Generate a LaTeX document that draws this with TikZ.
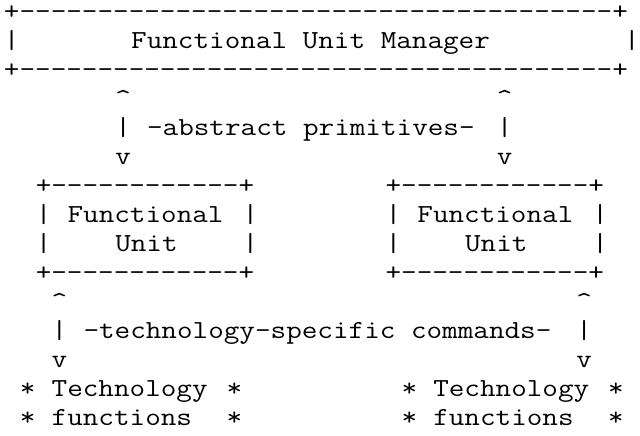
\documentclass[tikz,border=0pt]{standalone}
\usepackage{fontspec}
\usepackage{graphicx}
\newcommand{\ascfont}{\ttfamily\fontsize{26pt}{29pt}\selectfont}
\newcommand{\colx}[1]{4+15.9*#1}
\newcommand{\rowy}[1]{416-29*#1}
\newcommand{\asc}[1]{\scalebox{1.16484}[1]{#1}}
\newcommand{\caret}{\char"5E}
\begin{document}
\begin{tikzpicture}[x=1pt,y=1pt,
  txt/.style={anchor=base west, inner sep=0pt, outer sep=0pt, font=\ascfont, text=black}]
\useasboundingbox[fill=white] (0,0) rectangle (640,436);
% Functional Unit Manager box
\node[txt] (mgrTop) at ({\colx{0}},{\rowy{0}}) {\asc{+--------------------------------------+}};
\node[txt] (mgrL) at ({\colx{0}},{\rowy{1}}) {\asc{|}};
\node[txt] (mgr) at ({\colx{8}},{\rowy{1}}) {\asc{Functional Unit Manager}};
\node[txt] (mgrR) at ({\colx{39}},{\rowy{1}}) {\asc{|}};
\node[txt] (mgrBot) at ({\colx{0}},{\rowy{2}}) {\asc{+--------------------------------------+}};
% abstract primitives
\node[txt] (upA) at ({\colx{7}},{\rowy{3}}) {\asc{\caret}};
\node[txt] (upB) at ({\colx{31}},{\rowy{3}}) {\asc{\caret}};
\node[txt] (barA) at ({\colx{7}},{\rowy{4}}) {\asc{|}};
\node[txt] (absLbl) at ({\colx{9}},{\rowy{4}}) {\asc{-abstract primitives-}};
\node[txt] (barB) at ({\colx{31}},{\rowy{4}}) {\asc{|}};
\node[txt] (dnA) at ({\colx{7}},{\rowy{5}}) {\asc{v}};
\node[txt] (dnB) at ({\colx{31}},{\rowy{5}}) {\asc{v}};
% Functional Unit boxes
\node[txt] (fuATop) at ({\colx{2}},{\rowy{6}}) {\asc{+------------+}};
\node[txt] (fuBTop) at ({\colx{24}},{\rowy{6}}) {\asc{+------------+}};
\node[txt] (fuAL1) at ({\colx{2}},{\rowy{7}}) {\asc{|}};
\node[txt] (fuAT1) at ({\colx{4}},{\rowy{7}}) {\asc{Functional}};
\node[txt] (fuAR1) at ({\colx{15}},{\rowy{7}}) {\asc{|}};
\node[txt] (fuBL1) at ({\colx{24}},{\rowy{7}}) {\asc{|}};
\node[txt] (fuBT1) at ({\colx{26}},{\rowy{7}}) {\asc{Functional}};
\node[txt] (fuBR1) at ({\colx{37}},{\rowy{7}}) {\asc{|}};
\node[txt] (fuAL2) at ({\colx{2}},{\rowy{8}}) {\asc{|}};
\node[txt] (fuAT2) at ({\colx{7}},{\rowy{8}}) {\asc{Unit}};
\node[txt] (fuAR2) at ({\colx{15}},{\rowy{8}}) {\asc{|}};
\node[txt] (fuBL2) at ({\colx{24}},{\rowy{8}}) {\asc{|}};
\node[txt] (fuBT2) at ({\colx{29}},{\rowy{8}}) {\asc{Unit}};
\node[txt] (fuBR2) at ({\colx{37}},{\rowy{8}}) {\asc{|}};
\node[txt] (fuABot) at ({\colx{2}},{\rowy{9}}) {\asc{+------------+}};
\node[txt] (fuBBot) at ({\colx{24}},{\rowy{9}}) {\asc{+------------+}};
% technology-specific commands
\node[txt] (upC) at ({\colx{3}},{\rowy{10}}) {\asc{\caret}};
\node[txt] (upD) at ({\colx{36}},{\rowy{10}}) {\asc{\caret}};
\node[txt] (barC) at ({\colx{3}},{\rowy{11}}) {\asc{|}};
\node[txt] (techLbl) at ({\colx{5}},{\rowy{11}}) {\asc{-technology-specific commands-}};
\node[txt] (barD) at ({\colx{36}},{\rowy{11}}) {\asc{|}};
\node[txt] (dnC) at ({\colx{3}},{\rowy{12}}) {\asc{v}};
\node[txt] (dnD) at ({\colx{36}},{\rowy{12}}) {\asc{v}};
% Technology functions
\node[txt] (tfAL1) at ({\colx{1}},{\rowy{13}}) {\asc{*}};
\node[txt] (tfAT1) at ({\colx{3}},{\rowy{13}}) {\asc{Technology}};
\node[txt] (tfAR1) at ({\colx{14}},{\rowy{13}}) {\asc{*}};
\node[txt] (tfBL1) at ({\colx{25}},{\rowy{13}}) {\asc{*}};
\node[txt] (tfBT1) at ({\colx{27}},{\rowy{13}}) {\asc{Technology}};
\node[txt] (tfBR1) at ({\colx{38}},{\rowy{13}}) {\asc{*}};
\node[txt] (tfAL2) at ({\colx{1}},{\rowy{14}}) {\asc{*}};
\node[txt] (tfAT2) at ({\colx{3}},{\rowy{14}}) {\asc{functions}};
\node[txt] (tfAR2) at ({\colx{14}},{\rowy{14}}) {\asc{*}};
\node[txt] (tfBL2) at ({\colx{25}},{\rowy{14}}) {\asc{*}};
\node[txt] (tfBT2) at ({\colx{27}},{\rowy{14}}) {\asc{functions}};
\node[txt] (tfBR2) at ({\colx{38}},{\rowy{14}}) {\asc{*}};
\end{tikzpicture}
\end{document}
